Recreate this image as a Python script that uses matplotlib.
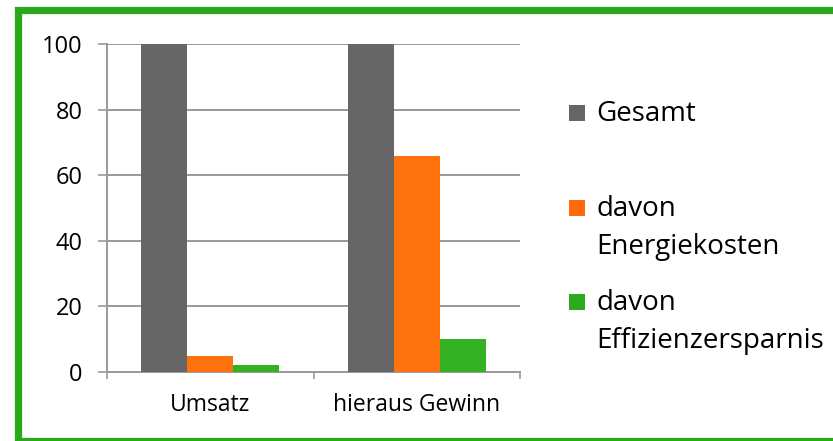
import matplotlib
matplotlib.use("Agg")
import matplotlib.pyplot as plt
from matplotlib.patches import Rectangle
import numpy as np

categories = ["Umsatz", "hieraus Gewinn"]
series_names = ["Gesamt", "davon\nEnergiekosten", "davon\nEffizienzersparnis"]
gesamt = [100, 100]
energiekosten = [5, 66]
effizienz = [2, 10]
y_ticks = [0, 20, 40, 60, 80, 100]

colors = ["#666666", "#FF730F", "#34B224"]
legend_colors = ["#666666", "#FF6A0A", "#2AAA1C"]

plt.rcParams['font.family'] = ['Open Sans', 'DejaVu Sans']

fig = plt.figure(figsize=(8.33, 4.41), dpi=100)
W, H = 833, 441

# green frame
fig.patches.append(Rectangle((17.5 / W, 0), 2.0, 1 - 10 / H, transform=fig.transFigure,
                             fill=False, edgecolor="#2AA81A", linewidth=5.2, zorder=0))

ax = fig.add_axes([107 / W, 1 - 372 / H, (520 - 107) / W, (372 - 44) / H])
x = np.arange(len(categories))
bw = 0.222
for i, (vals, c) in enumerate(zip([gesamt, energiekosten, effizienz], colors)):
    ax.bar(x + (i - 1) * bw, vals, width=bw, color=c, zorder=3, linewidth=0)

ax.set_xlim(-0.5, 1.5)
ax.set_ylim(0, 100)
ax.set_yticks(y_ticks)
ax.set_yticklabels([str(v) for v in y_ticks], fontsize=17)
ax.yaxis.grid(True, color="#999999", linewidth=1.4, zorder=1)
ax.set_axisbelow(True)
ax.tick_params(axis="y", length=6.5, width=1.2, color="#999999", pad=11)

ax.set_xticks(x)
ax.set_xticklabels(categories, fontsize=16.5)
ax.set_xticks([-0.5, 0.5, 1.5], minor=True)
ax.tick_params(axis="x", which="major", length=0, pad=15)
ax.tick_params(axis="x", which="minor", length=5, width=1.2, color="#999999")

for s in ["top", "right"]:
    ax.spines[s].set_visible(False)
for s in ["left", "bottom"]:
    ax.spines[s].set_color("#999999")
    ax.spines[s].set_linewidth(1.4)

# legend
sq = 16
entries = [
    (114, ["Gesamt"]),
    (209, ["davon", "Energiekosten"]),
    (303, ["davon", "Effizienzersparnis"]),
]
for (yc, lines), c in zip(entries, legend_colors):
    fig.patches.append(Rectangle((569 / W, 1 - (yc - 1 + sq / 2) / H), sq / W, sq / H,
                                 transform=fig.transFigure, facecolor=c, edgecolor="none"))
    for k, line in enumerate(lines):
        fig.text(596 / W, 1 - (yc + k * 38) / H, line, fontsize=20, va="center", ha="left")

fig.savefig("out.png", dpi=100)
